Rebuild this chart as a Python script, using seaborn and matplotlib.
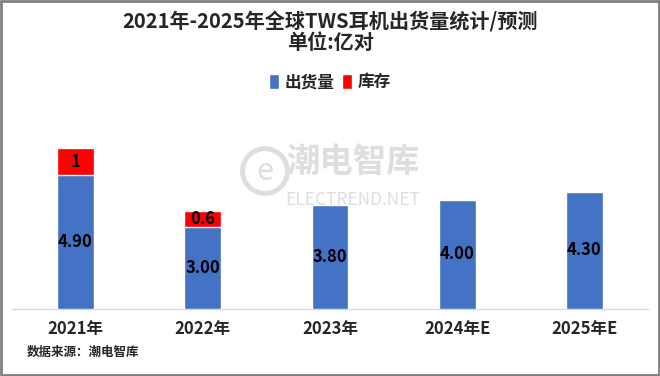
import pandas as pd
import seaborn as sns
import matplotlib.pyplot as plt
from matplotlib.patches import Rectangle, Arc

# 数据
years = ['2021年', '2022年', '2023年', '2024年E', '2025年E']
shipments = [4.90, 3.00, 3.80, 4.00, 4.30]
inventory = [1, 0.6, 0, 0, 0]
inv_labels = ['1', '0.6', '', '', '']

blue = '#4472C4'
red = '#FF0000'

sns.set_theme(style='white')
plt.rcParams['font.family'] = ['Noto Sans CJK SC', 'DejaVu Sans']

df = pd.DataFrame({'year': years, 'shipment': shipments, 'inventory': inventory})
df['total'] = df['shipment'] + df['inventory']

fig = plt.figure(figsize=(6.6, 3.76), dpi=100)
ax = fig.add_axes([0.018, 0.178, 0.964, 0.556])

# 先画总量(红)，再用出货量(蓝)覆盖
sns.barplot(data=df, x='year', y='total', color=red, width=0.29, ax=ax,
            saturation=1, label='库存', zorder=2)
sns.barplot(data=df, x='year', y='shipment', color=blue, width=0.29, ax=ax,
            saturation=1, label='出货量', zorder=3)

for i, row in df.iterrows():
    ax.text(i, row['shipment'] / 2, f"{row['shipment']:.2f}", ha='center', va='center',
            fontsize=12, fontweight='bold', color='black', zorder=5)
    if row['inventory'] > 0:
        ax.text(i, row['shipment'] + row['inventory'] / 2, inv_labels[i], ha='center',
                va='center', fontsize=12, fontweight='bold', color='black', zorder=5)

ax.set_xlim(-0.5, 4.5)
ax.set_ylim(0, 7.66)
ax.set_xlabel('')
ax.set_ylabel('')
ax.set_yticks([])
ax.tick_params(axis='x', length=0, pad=8)
for lbl in ax.get_xticklabels():
    lbl.set_fontsize(12)
    lbl.set_fontweight('bold')
for s in ['top', 'right', 'left']:
    ax.spines[s].set_visible(False)
ax.spines['bottom'].set_color('#d9d9d9')
ax.spines['bottom'].set_linewidth(1)

# 图例
handles, labels = ax.get_legend_handles_labels()
order = [labels.index('出货量'), labels.index('库存')]
fig.legend([handles[k] for k in order], [labels[k] for k in order],
           loc='center', bbox_to_anchor=(0.5, 0.782), ncol=2, frameon=False,
           prop={'size': 12, 'weight': 'bold'}, handlelength=0.6,
           handleheight=1.0, handletextpad=0.3, columnspacing=0.5)
if ax.get_legend():
    ax.get_legend().remove()

# 标题
fig.text(0.5, 0.945, '2021年-2025年全球TWS耳机出货量统计/预测', ha='center', va='center',
         fontsize=14.5, fontweight='heavy')
fig.text(0.5, 0.886, '单位:亿对', ha='center', va='center', fontsize=14.5, fontweight='heavy')

# 水印
wm = '#dedede'
fig.text(0.535, 0.568, '潮电智库', ha='center', va='center', fontsize=24,
         fontweight='heavy', color=wm, zorder=0)
fig.text(0.535, 0.468, 'ELECTREND.NET', ha='center', va='center', fontsize=12.5,
         color=wm, zorder=0)
fig.patches.append(Arc((0.4015, 0.545), 0.068, 0.119, theta1=-60, theta2=300,
                       transform=fig.transFigure, edgecolor=wm, linewidth=3.5, zorder=0))
fig.text(0.4015, 0.545, 'e', ha='center', va='center', fontsize=22, color=wm, zorder=0)

# 数据来源
fig.text(0.04, 0.063, '数据来源：潮电智库', ha='left', va='center', fontsize=9,
         fontweight='bold')

# 外框
fig.patches.append(Rectangle((0.002, 0.003), 0.996, 0.994, transform=fig.transFigure,
                             fill=False, edgecolor='#7f7f7f', linewidth=2))

plt.savefig('out.png', dpi=100)
